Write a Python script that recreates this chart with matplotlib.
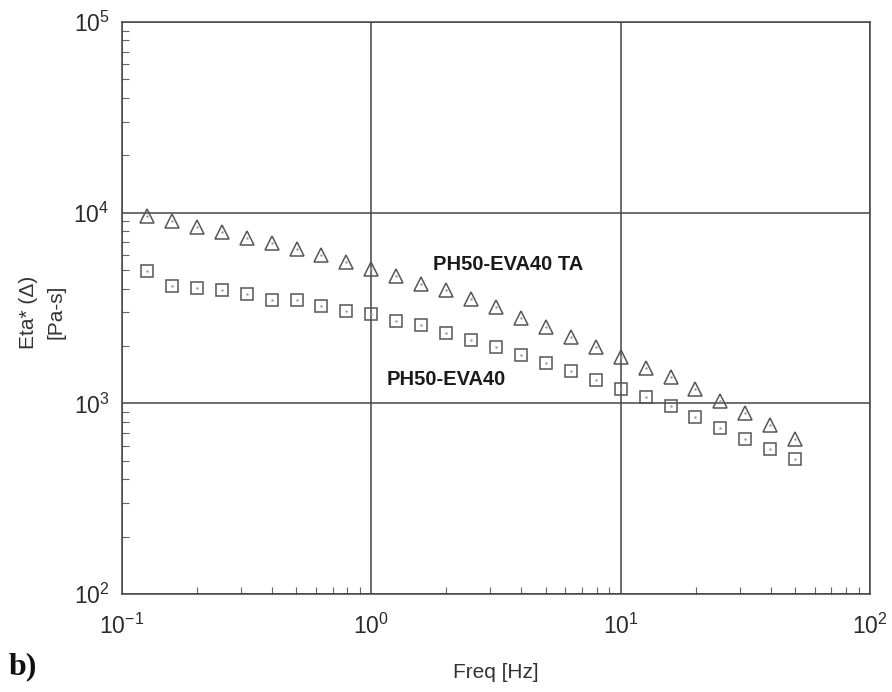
import numpy as np
import matplotlib.pyplot as plt
from matplotlib.ticker import LogLocator, NullFormatter

# frequency sweep, 10 points per decade
freq = [0.1259, 0.1585, 0.1995, 0.2512, 0.3162, 0.3981, 0.5012, 0.6310, 0.7943,
        1.0, 1.259, 1.585, 1.995, 2.512, 3.162, 3.981, 5.012, 6.310, 7.943,
        10.0, 12.59, 15.85, 19.95, 25.12, 31.62, 39.81, 50.12]

eta_ta = [9620, 9080, 8450, 7930, 7370, 6910, 6430, 6000, 5530,
          5050, 4650, 4240, 3940, 3540, 3190, 2790, 2500, 2240, 1980,
          1750, 1540, 1380, 1190, 1030, 895, 769, 652]

eta_plain = [4970, 4130, 4050, 3940, 3760, 3470, 3470, 3250, 3060,
             2930, 2700, 2570, 2350, 2160, 1970, 1790, 1620, 1480, 1330,
             1190, 1080, 973, 845, 746, 651, 574, 509]

label_ta = "PH50-EVA40 TA"
label_plain = "PH50-EVA40"

plt.rcParams['font.family'] = ['Liberation Sans', 'DejaVu Sans']
plt.rcParams['axes.unicode_minus'] = False

fig = plt.figure(figsize=(8.92, 6.92), dpi=100)
ax = fig.add_axes([122/892, 1 - 594/692, 748/892, 572/692])

mc = '#555555'
ax.plot(freq, eta_ta, linestyle='none', marker='^', markersize=10,
        markerfacecolor='none', markeredgecolor=mc, markeredgewidth=1.1)
ax.plot(freq, eta_plain, linestyle='none', marker='s', markersize=9,
        markerfacecolor='none', markeredgecolor=mc, markeredgewidth=1.1)
# tiny centre dots
ax.plot(freq, eta_ta, linestyle='none', marker='.', markersize=1.5, color='#999999')
ax.plot(freq, eta_plain, linestyle='none', marker='.', markersize=1.5, color='#999999')

ax.set_xscale('log')
ax.set_yscale('log')
ax.set_xlim(0.1, 100)
ax.set_ylim(100, 1e5)
ax.set_axisbelow(True)

ax.grid(True, which='major', color='#444444', linewidth=1.1)
for s in ax.spines.values():
    s.set_color('#444444')
    s.set_linewidth(1.1)

ax.xaxis.set_minor_locator(LogLocator(base=10, subs=np.arange(2, 10)))
ax.yaxis.set_minor_locator(LogLocator(base=10, subs=np.arange(2, 10)))
ax.xaxis.set_minor_formatter(NullFormatter())
ax.yaxis.set_minor_formatter(NullFormatter())
ax.tick_params(which='minor', direction='in', length=5, color='#666666', width=0.8)
ax.tick_params(which='major', length=0, labelsize=16.5, colors='#2a2a2a')
ax.tick_params(axis='x', which='major', pad=14)
ax.tick_params(axis='y', which='major', pad=9)

ax.text(1.768, 5320, label_ta, fontsize=14.5, fontweight='bold',
        color='#1a1a1a', va='center', ha='left')
ax.text(1.156, 1327, label_plain, fontsize=14.5, fontweight='bold',
        color='#1a1a1a', va='center', ha='left')

fig.text(42 / 892, 1 - 312 / 692, 'Eta* (\u0394)\n[Pa-s]', ha='center', va='center',
         rotation=90, fontsize=15, color='#333333', linespacing=1.6)
fig.text(496 / 892, 1 - 672 / 692, 'Freq [Hz]', ha='center', va='center',
         fontsize=15, color='#333333')
fig.text(9 / 892, 1 - 667 / 692, 'b)', ha='left', va='center', fontsize=23,
         fontweight='bold', family='Liberation Serif', color='#111111')

fig.savefig('out.png', dpi=100)
